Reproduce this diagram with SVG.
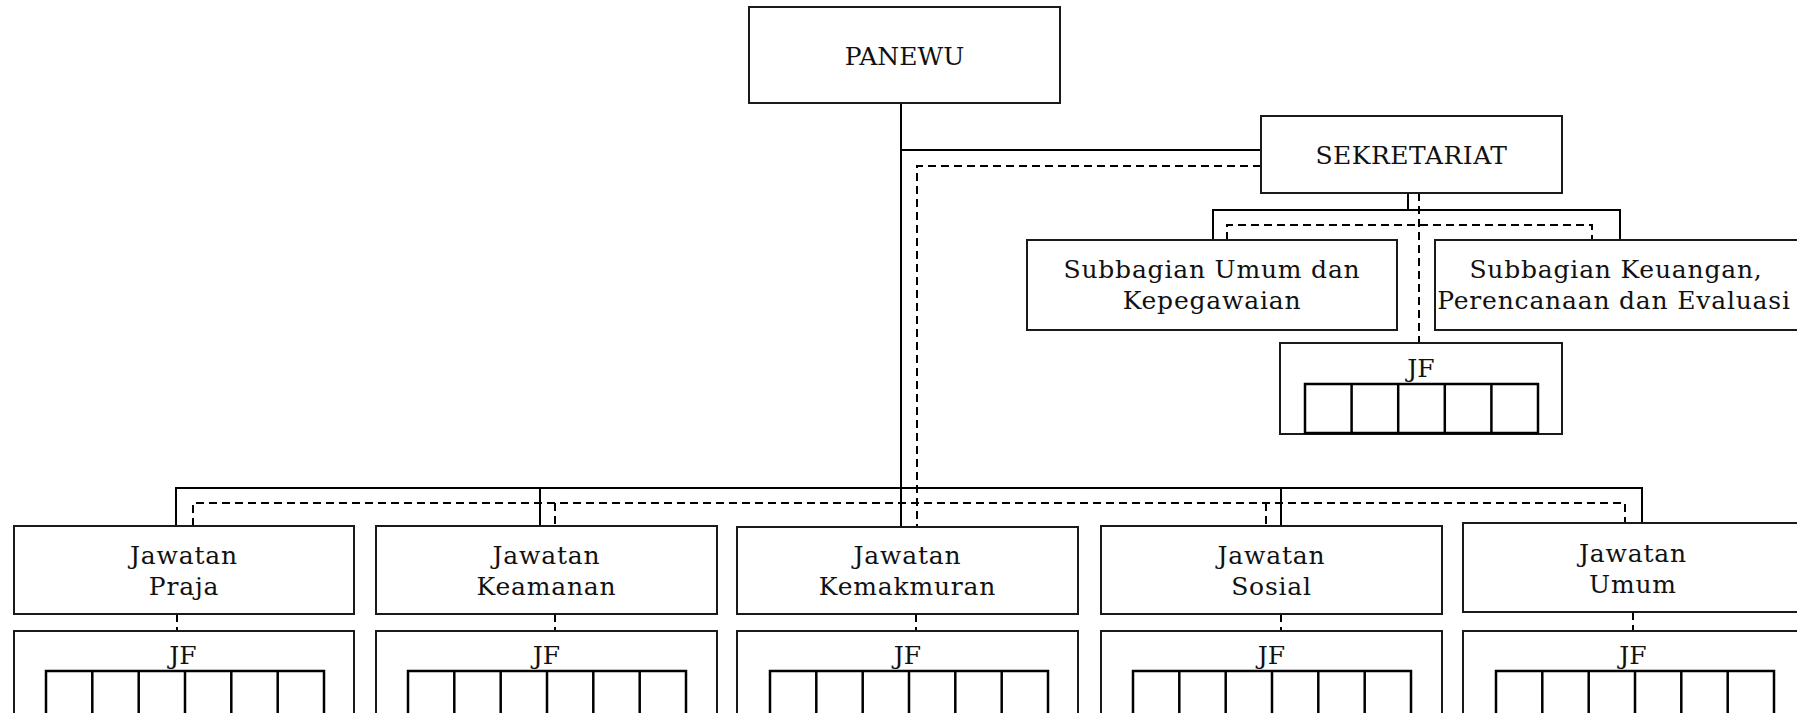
<svg xmlns="http://www.w3.org/2000/svg" width="1797" height="713" viewBox="0 0 1797 713">
<style>
.box{fill:#fff;stroke:#1a1a1a;stroke-width:2}
.cell{fill:none;stroke:#000;stroke-width:2.5}
.ln{fill:none;stroke:#000;stroke-width:2}
.dash{fill:none;stroke:#000;stroke-width:2;stroke-dasharray:8 5}
text{font-family:"DejaVu Serif","Liberation Serif",serif;font-size:25px;fill:#111;text-anchor:middle}
.lc{letter-spacing:0.8px}
.sk{letter-spacing:0.5px}
</style>
<defs>
<g id="cells6" class="cell">
<rect x="0" y="0" width="278" height="70"/>
<path d="M46.3,0V70M92.7,0V70M139,0V70M185.3,0V70M231.7,0V70"/>
</g>
<g id="cells5" class="cell">
<rect x="0" y="0" width="233" height="49"/>
<path d="M46.6,0V49M93.2,0V49M139.8,0V49M186.4,0V49"/>
</g>
</defs>
<rect width="1797" height="713" fill="#fff"/>
<g id="connectors">
<path class="ln" d="M901,103V527M901,150H1261M176,526V488H1642V523M540,488V526M1281,488V526M1408,193V210M1213,240V210H1620V240"/>
<path class="dash" d="M1261,166H917V527M193,526V503H1625V523M555,503V526M1266,503V526M1419,193V343M1227,240V225H1592V240"/>
<path class="dash" d="M177,614V631M555,614V631M916,614V631M1281,614V631M1633,612V631"/>
</g>
<g id="panewu">
<rect class="box" x="749" y="7" width="311" height="96"/>
<text x="904.5" y="65">PANEWU</text>
</g>
<g id="sekretariat">
<rect class="box" x="1261" y="116" width="301" height="77"/>
<text class="sk" x="1411.5" y="164">SEKRETARIAT</text>
</g>
<g id="subbagian-umum">
<rect class="box" x="1027" y="240" width="370" height="90"/>
<text class="lc" x="1212" y="278">Subbagian Umum dan</text>
<text class="lc" x="1212" y="309">Kepegawaian</text>
</g>
<g id="subbagian-keuangan">
<rect class="box" x="1435" y="240" width="368" height="90"/>
<text class="lc" x="1616" y="278">Subbagian Keuangan,</text>
<text class="lc" x="1614" y="309">Perencanaan dan Evaluasi</text>
</g>
<g id="jf-sekretariat">
<rect class="box" x="1280" y="343" width="282" height="91"/>
<text x="1421" y="377">JF</text>
<use href="#cells5" x="1305" y="384"/>
</g>
<g id="jawatan-praja">
<rect class="box" x="14" y="526" width="340" height="88"/>
<text class="lc" x="184" y="564">Jawatan</text>
<text class="lc" x="184" y="595">Praja</text>
</g>
<g id="jf-praja">
<rect class="box" x="14" y="631" width="340" height="100"/>
<text x="183" y="664">JF</text>
<use href="#cells6" x="46" y="671"/>
</g>
<g id="jawatan-keamanan">
<rect class="box" x="376" y="526" width="341" height="88"/>
<text class="lc" x="546.5" y="564">Jawatan</text>
<text class="lc" x="546.5" y="595">Keamanan</text>
</g>
<g id="jf-keamanan">
<rect class="box" x="376" y="631" width="341" height="100"/>
<text x="546.5" y="664">JF</text>
<use href="#cells6" x="408" y="671"/>
</g>
<g id="jawatan-kemakmuran">
<rect class="box" x="737" y="527" width="341" height="87"/>
<text class="lc" x="907.5" y="564">Jawatan</text>
<text class="lc" x="907.5" y="595">Kemakmuran</text>
</g>
<g id="jf-kemakmuran">
<rect class="box" x="737" y="631" width="341" height="100"/>
<text x="907.5" y="664">JF</text>
<use href="#cells6" x="770" y="671"/>
</g>
<g id="jawatan-sosial">
<rect class="box" x="1101" y="526" width="341" height="88"/>
<text class="lc" x="1271.5" y="564">Jawatan</text>
<text class="lc" x="1271.5" y="595">Sosial</text>
</g>
<g id="jf-sosial">
<rect class="box" x="1101" y="631" width="341" height="100"/>
<text x="1271.5" y="664">JF</text>
<use href="#cells6" x="1133" y="671"/>
</g>
<g id="jawatan-umum">
<rect class="box" x="1463" y="523" width="340" height="89"/>
<text class="lc" x="1633" y="562">Jawatan</text>
<text class="lc" x="1633" y="593">Umum</text>
</g>
<g id="jf-umum">
<rect class="box" x="1463" y="631" width="340" height="100"/>
<text x="1633" y="664">JF</text>
<use href="#cells6" x="1496" y="671"/>
</g>
</svg>
